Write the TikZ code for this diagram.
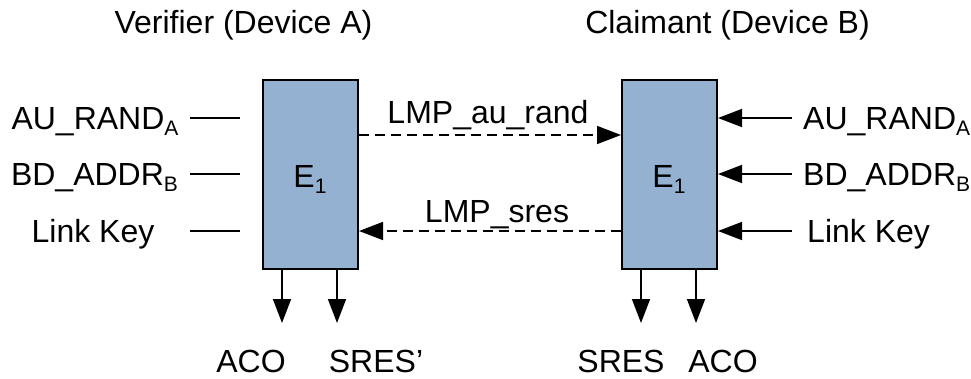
\documentclass[tikz,border=0pt]{standalone}
\usepackage{fontspec}
\setmainfont{Liberation Sans}
\usetikzlibrary{arrows.meta}
\newcommand\lowsub[1]{\raisebox{-5.5pt}{\fontsize{21}{21}\selectfont #1}}
\definecolor{boxblue}{RGB}{149,177,210}
\begin{document}
\begin{tikzpicture}[x=1pt,y=-1pt,
  lbl/.style={inner sep=0pt,anchor=base,font=\fontsize{32}{38}\selectfont},
  lblw/.style={lbl,anchor=base west},
  engine/.style={draw=black,line width=2pt,fill=boxblue,minimum width=95pt,minimum height=189pt,inner sep=0pt},
  wire/.style={line width=1.6pt},
  arr/.style={wire,-{Triangle[length=24pt,width=18pt]}},
  msg/.style={arr,dash pattern=on 10pt off 6pt}]
\useasboundingbox (0,0) rectangle (971,378);

% titles
\node[lbl] (tA) at (243.5,33.5) {Verifier (Device A)};
\node[lbl] (tB) at (727.5,33.5) {Claimant (Device B)};

% the two E1 blocks
\node[engine] (A) at (310.5,174.5) {};
\node[engine] (B) at (669.5,174.5) {};
\node[lbl] (eA) at (310,187.5) {E\lowsub{1}};
\node[lbl] (eB) at (669,187.5) {E\lowsub{1}};

% verifier inputs
\node[lbl] (inA1) at (95,129.5) {AU\_RAND\lowsub{A}};
\node[lbl] (inA2) at (94.5,185.5) {BD\_ADDR\lowsub{B}};
\node[lbl] (inA3) at (93,242.5) {Link Key};
\coordinate (a1s) at (190,118); \coordinate (a1e) at (240,118);
\coordinate (a2s) at (190,174); \coordinate (a2e) at (240,174);
\coordinate (a3s) at (190,231); \coordinate (a3e) at (240,231);
\draw[wire] (a1s) -- (a1e);
\draw[wire] (a2s) -- (a2e);
\draw[wire] (a3s) -- (a3e);

% claimant inputs
\node[lblw] (inB1) at (803,129.5) {AU\_RAND\lowsub{A}};
\node[lblw] (inB2) at (803,185.5) {BD\_ADDR\lowsub{B}};
\node[lblw] (inB3) at (807,242.5) {Link Key};
\coordinate (b1) at (792,118);
\coordinate (b2) at (792,174);
\coordinate (b3) at (792,231);
\draw[arr] (b1) -- (b1 -| B.east);
\draw[arr] (b2) -- (b2 -| B.east);
\draw[arr] (b3) -- (b3 -| B.east);

% LMP messages
\coordinate (m1) at (0,135);
\coordinate (m2) at (0,231);
\draw[msg] (m1 -| A.east) -- (m1 -| B.west);
\draw[msg] (m2 -| B.west) -- (m2 -| A.east);
\node[lbl] (lm1) at (488,123) {LMP\_au\_rand};
\node[lbl] (lm2) at (497,222.5) {LMP\_sres};

% outputs
\coordinate (oA1) at (282,323);
\coordinate (oA2) at (337,323);
\coordinate (oB1) at (641,323);
\coordinate (oB2) at (696,323);
\draw[arr] (oA1 |- A.south) -- (oA1);
\draw[arr] (oA2 |- A.south) -- (oA2);
\draw[arr] (oB1 |- B.south) -- (oB1);
\draw[arr] (oB2 |- B.south) -- (oB2);
\node[lbl] (outA1) at (251,372.5) {ACO};
\node[lbl] (outA2) at (376,372.5) {SRES’};
\node[lbl] (outB1) at (621,372.5) {SRES};
\node[lbl] (outB2) at (723,372.5) {ACO};
\end{tikzpicture}
\end{document}
